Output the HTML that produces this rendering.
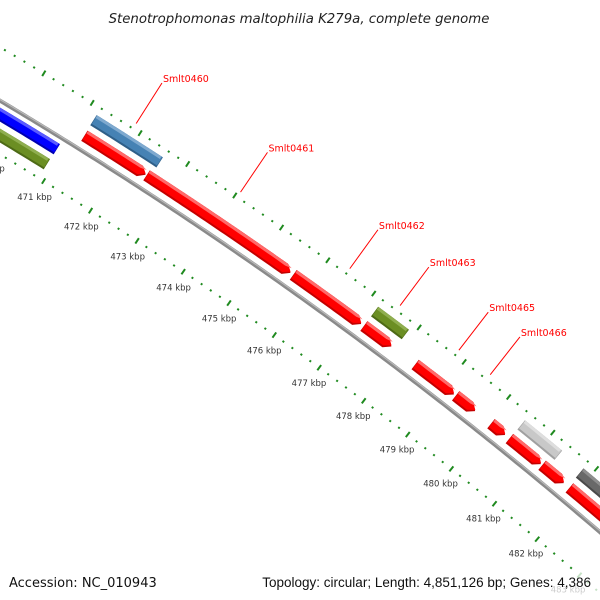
<!DOCTYPE html>
<html><head><meta charset="utf-8"><style>
html,body{margin:0;padding:0;background:#fff;width:600px;height:600px;overflow:hidden;}
svg{display:block;font-family:"Liberation Sans",sans-serif;}
</style></head><body>
<svg id="map" width="600" height="600" viewBox="0 0 600 600" xmlns="http://www.w3.org/2000/svg" style="overflow:hidden">
<rect width="600" height="600" fill="#fff"/>
<g id="plot"></g>
<text x="299" y="23" text-anchor="middle" font-size="13.3" font-style="italic" fill="#222" style="font-family:'DejaVu Sans',sans-serif">Stenotrophomonas maltophilia K279a, complete genome</text>
<rect x="0" y="570" width="600" height="30" fill="#fff" opacity="0.75"/>
<text x="9" y="587" font-size="13" fill="#111" style="font-family:'DejaVu Sans',sans-serif">Accession: NC_010943</text>
<text x="591" y="587" text-anchor="end" font-size="13.5" fill="#111">Topology: circular; Length: 4,851,126 bp; Genes: 4,386</text>
</svg>
<script>
// data (kbp)
const redStarts = [471.19, 472.50, 475.65, 477.20, 478.34, 479.25, 480.05, 480.47, 481.22, 481.85];
const redEnds   = [472.48, 475.59, 477.14, 477.81, 479.21, 479.69, 480.37, 481.19, 481.72, 484.50];
const outerStarts = [471.18, 477.20, 480.48, 481.82];
const outerEnds   = [472.57, 477.88, 481.33, 484.50];
const outerColors = ["#4682b4", "#6b8e23", "#c8c8c8", "#696969"];
const revStarts = [466.0, 466.0];
const revEnds   = [470.90, 470.89];
const revColors = ["#0000ff", "#6b8e23"];
const revRings  = [-12, -30];
const labelNames = ["Smlt0460", "Smlt0461", "Smlt0462", "Smlt0463", "Smlt0465", "Smlt0466"];
const labelPos   = [471.85, 474.05, 476.40, 477.50, 478.80, 479.50];
const tickMin = 466, tickMax = 485;

// axis
const CX = -2205.9, CY = 3800.7, R = 4307.7;
const TH0 = -58.14, DEG_PER_KBP = 0.746;
function ang(k){ return (TH0 + (k - 471) * DEG_PER_KBP) * Math.PI / 180; }
function pt(k, r){ const a = ang(k); return [CX + r * Math.cos(a), CY + r * Math.sin(a)]; }
const NS = "http://www.w3.org/2000/svg";
const plot = document.getElementById("plot");
function mk(tag, attrs){ const e = document.createElementNS(NS, tag); for (const k in attrs) e.setAttribute(k, attrs[k]); plot.appendChild(e); return e; }
function arcPts(k1, k2, r){ const n = Math.max(4, Math.ceil((k2 - k1) * 12)); const a = []; for (let i = 0; i <= n; i++) a.push(pt(k1 + (k2 - k1) * i / n, r)); return a; }
function poly(p){ return p.map(q => q[0].toFixed(2) + "," + q[1].toFixed(2)).join(" "); }
const HEAD = 0.12;
function bandShape(k1, k2, r1, r2, arrow){
  if (!arrow) return arcPts(k1, k2, r2).concat(arcPts(k1, k2, r1).reverse());
  const kb = Math.max(k1, k2 - HEAD);
  return arcPts(k1, kb, r2).concat([pt(k2, (r1 + r2) / 2)]).concat(arcPts(k1, kb, r1).reverse());
}
function feature(name, k1, k2, rc, base, light, dark, arrow){
  const h = 6;
  const g = mk("g", {});
  
  
  const b = document.createElementNS(NS, "polygon");
  b.setAttribute("points", poly(bandShape(k1, k2, rc - h, rc + h, arrow)));
  b.setAttribute("fill", dark);
  
  
  g.appendChild(b);
  const m = document.createElementNS(NS, "polygon");
  m.setAttribute("points", poly(bandShape(k1 + 0.01, k2 - 0.01, rc - h + 2, rc + h, arrow)));
  m.setAttribute("fill", base);
  
  
  g.appendChild(m);
  const l = document.createElementNS(NS, "polygon");
  l.setAttribute("points", poly(bandShape(k1 + 0.01, k2 - 0.03, rc + h - 3, rc + h, arrow)));
  l.setAttribute("fill", light);
  
  
  g.appendChild(l);
  plot.appendChild(g);
}

// ticks
for (let i = 0; i <= Math.round((tickMax - tickMin) / 0.2); i++){
  const k = tickMin + i * 0.2;
  const major = Math.abs(k - Math.round(k)) < 1e-6;
  [-46, 46].forEach(off => {
    const len = major ? 3.2 : 1;
    const a = pt(k, R + off - len), b = pt(k, R + off + len);
    const t = mk("line", {x1: a[0], y1: a[1], x2: b[0], y2: b[1], stroke: "#1f8a1f", "stroke-width": 2});
    
    
  });
  if (major){
    const p = pt(k, R - 65);
    const tx = mk("text", {x: p[0] + 1, y: p[1] + 3, "text-anchor": "middle", "font-size": 8.5, fill: "#333", style: "font-family:'DejaVu Sans',sans-serif"});
    tx.textContent = Math.round(k) + " kbp";
    
    
  }
}

// backbone
const bb = arcPts(tickMin, tickMax, R);
const bbLine = mk("polyline", {points: poly(bb), fill: "none", stroke: "#8a8a8a", "stroke-width": 4});


const bbHi = mk("polyline", {points: poly(arcPts(tickMin, tickMax, R + 1)), fill: "none", stroke: "#b8b8b8", "stroke-width": 1.2});



// reverse-strand features
for (let i = 0; i < revStarts.length; i++){
  const c = revColors[i];
  feature('reverse-feature', revStarts[i], revEnds[i], R + revRings[i], c, c === "#0000ff" ? "#5a5aff" : "#8fae4f", c === "#0000ff" ? "#0000b0" : "#4d6a16", false);
}
// outer COG ring
for (let i = 0; i < outerStarts.length; i++){
  const c = outerColors[i];
  const light = {"#4682b4": "#7ea9cf", "#6b8e23": "#8fae4f", "#c8c8c8": "#dedede", "#696969": "#8e8e8e"}[c];
  const dark = {"#4682b4": "#2f5f88", "#6b8e23": "#4d6a16", "#c8c8c8": "#a0a0a0", "#696969": "#4a4a4a"}[c];
  feature('cog-feature', outerStarts[i], outerEnds[i], R + 32, c, light, dark, false);
}
// forward genes
for (let i = 0; i < redStarts.length; i++){
  feature('forward-gene', redStarts[i], redEnds[i], R + 14, "#ff0000", "#ff6a6a", "#c40000", true);
}
// labels
for (let i = 0; i < labelNames.length; i++){
  const a = pt(labelPos[i], R + 52), b = pt(labelPos[i], R + 100);
  const ln = mk("line", {x1: a[0], y1: a[1], x2: b[0], y2: b[1], stroke: "#ff0000", "stroke-width": 1});
  
  
  const tx = mk("text", {x: b[0] + 1, y: b[1] - 1, "font-size": 9.5, fill: "#ff0000", style: "font-family:'DejaVu Sans',sans-serif"});
  tx.textContent = labelNames[i];
  
  
}
</script>
</body></html>
